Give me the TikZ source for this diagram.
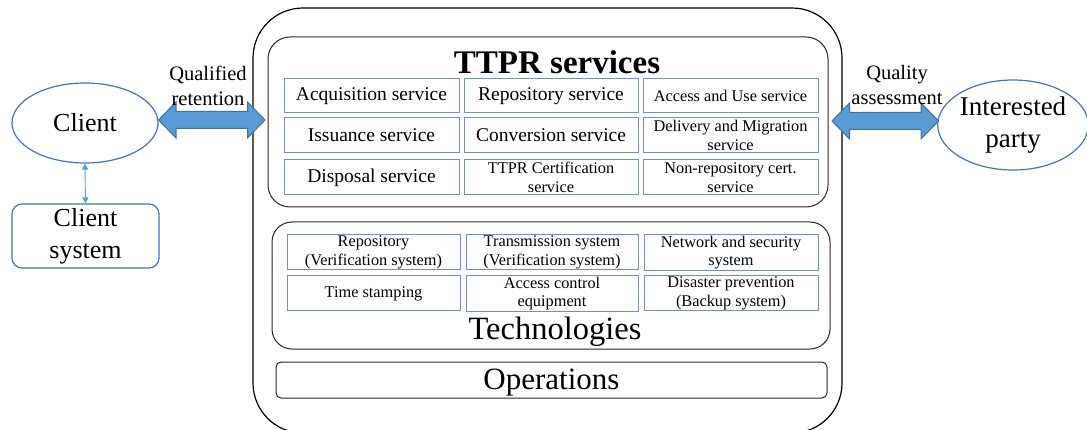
\documentclass[tikz,border=0pt]{standalone}
\usepackage{fontspec}
\setmainfont{Liberation Serif}
\usetikzlibrary{shapes.geometric,arrows.meta,calc}
\definecolor{ellblue}{HTML}{4472C4}
\definecolor{boxblue}{HTML}{6F8FD0}
\definecolor{arrfill}{HTML}{5B9BD5}
\definecolor{arrline}{HTML}{41719C}
\definecolor{frame}{HTML}{262626}
\tikzset{
  svc/.style={draw=boxblue, line width=1pt, inner sep=1pt, align=center, font=\fontsize{19.5}{20}\selectfont},
  svcs/.style={svc, font=\fontsize{16.3}{18.5}\selectfont},
  grp/.style={draw=frame, line width=1pt},
  ell/.style={ellipse, draw=ellblue, line width=1.2pt, align=center, inner sep=0pt},
  bigarr/.style={draw=arrline, fill=arrfill, line width=1pt, line join=miter},
  lbl/.style={align=center, font=\fontsize{20.5}{25}\selectfont}
}
\newcommand\dblarr[2]{%
  \path[bigarr] let \p1=(#1), \p2=(#2) in
    (\x1,\y1) -- (\x1+17.5pt,\y1+18pt) -- (\x1+17.5pt,\y1+8.5pt) -- (\x2-17.5pt,\y1+8.5pt)
    -- (\x2-17.5pt,\y1+18pt) -- (\x2,\y1) -- (\x2-17.5pt,\y1-18pt) -- (\x2-17.5pt,\y1-8.5pt)
    -- (\x1+17.5pt,\y1-8.5pt) -- (\x1+17.5pt,\y1-18pt) -- cycle;}
\begin{document}
\begin{tikzpicture}[x=1pt,y=-1pt]
\useasboundingbox (0,0) rectangle (1087,430);
\clip (0,0) rectangle (1087,430);
% outer frame
\draw[black, line width=1.2pt, rounded corners=50pt] (253,8) rectangle (842,433);
% TTPR services group
\draw[grp, rounded corners=22pt] (268,37) rectangle (828,207);
\node[font=\bfseries\fontsize{33}{36}\selectfont] (title) at (557,62) {TTPR services};
% services
\node[svc, minimum width=175pt, minimum height=34pt] (s11) at (371.5,96) {Acquisition service};
\node[svc, minimum width=174pt, minimum height=34pt] (s12) at (551,96) {Repository service};
\node[svcs, minimum width=175pt, minimum height=34pt] (s13) at (730.5,96) {Access and Use service};
\node[svc, minimum width=175pt, minimum height=35pt] (s21) at (371.5,135.5) {Issuance service};
\node[svc, minimum width=174pt, minimum height=35pt] (s22) at (551,135.5) {Conversion service};
\node[svcs, minimum width=175pt, minimum height=35pt] (s23) at (730.5,135.5) {Delivery and Migration\\service};
\node[svc, minimum width=175pt, minimum height=35pt] (s31) at (371.5,177.5) {Disposal service};
\node[svcs, minimum width=174pt, minimum height=35pt] (s32) at (551,177.5) {TTPR Certification\\service};
\node[svcs, minimum width=175pt, minimum height=35pt] (s33) at (730.5,177.5) {Non-repository cert.\\service};
% technologies group
\draw[grp, rounded corners=20pt] (272,222) rectangle (830,349);
\node[svcs, minimum width=173pt, minimum height=35pt] (t11) at (373.5,252.5) {Repository\\(Verification system)};
\node[svcs, minimum width=172pt, minimum height=35pt] (t12) at (552,252.5) {Transmission system\\(Verification system)};
\node[svcs, minimum width=174pt, minimum height=35pt] (t13) at (731,252.5) {Network and security\\system};
\node[svcs, minimum width=173pt, minimum height=35pt] (t21) at (373.5,293.5) {Time stamping};
\node[svcs, minimum width=172pt, minimum height=35pt] (t22) at (552,293.5) {Access control\\equipment};
\node[svcs, minimum width=174pt, minimum height=35pt] (t23) at (731,293.5) {Disaster prevention\\(Backup system)};
\node[font=\fontsize{32.5}{36}\selectfont] (tech) at (555,332) {Technologies};
% operations
\node[grp, rounded corners=5pt, minimum width=551pt, minimum height=36pt, text height=25pt, text depth=6pt, inner ysep=0pt, font=\fontsize{31}{34}\selectfont] (ops) at (551.5,380) {Operations};
% client side
\node[ell, minimum width=146pt, minimum height=80pt, font=\fontsize{26}{32}\selectfont] (client) at (85,123) {Client};
\node[draw=ellblue, line width=1.2pt, rounded corners=10pt, minimum width=147pt, minimum height=64pt, align=center, inner sep=0pt, font=\fontsize{26}{32}\selectfont] (csys) at (85.5,236) {Client\\system};
\draw[arrfill, line width=0.9pt, {Triangle[length=6pt,width=6pt]}-{Triangle[length=6pt,width=6pt]}] (client.south) -- (csys.north);
% interested party
\node[ell, minimum width=143pt, minimum height=90pt, font=\fontsize{27}{32}\selectfont] (party) at (1013,125) {Interested\\party};
% big arrows
\coordinate (la) at (158.5,120);
\coordinate (lb) at (265,120);
\coordinate (ra) at (832,121);
\coordinate (rb) at (938.5,121);
\dblarr{la}{lb}
\dblarr{ra}{rb}
\node[lbl] (qret) at (208,86) {Qualified\\retention};
\node[lbl] (qass) at (897,85) {Quality\\assessment};
\end{tikzpicture}
\end{document}
